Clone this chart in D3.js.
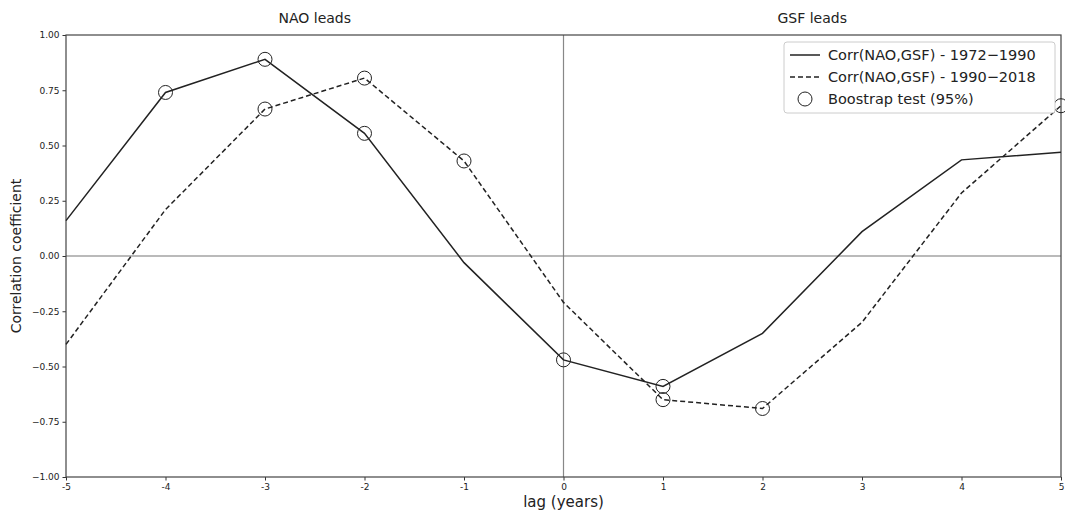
<!DOCTYPE html>
<html>
<head>
<meta charset="utf-8">
<script src="https://d3js.org/d3.v7.min.js"></script>
<style>
  body { margin: 0; background: white; }
  text { font-family: "DejaVu Sans", sans-serif; fill: #222; }
</style>
</head>
<body>
<div id="container"></div>
<script>
// Lagged correlation NAO vs GSF, two periods

const width = 1065;
const height = 512;
const margin = { top: 35, right: 4, bottom: 35, left: 66 };

const lags = [-5, -4, -3, -2, -1, 0, 1, 2, 3, 4, 5];
const corr1972 = [0.16, 0.74, 0.89, 0.555, -0.03, -0.47, -0.59, -0.35, 0.11, 0.435, 0.47];
const corr1990 = [-0.40, 0.21, 0.665, 0.805, 0.43, -0.21, -0.65, -0.69, -0.30, 0.285, 0.68];
// lags where the bootstrap test is significant
const sig1972 = [-4, -3, -2, 0, 1];
const sig1990 = [-3, -2, -1, 1, 2, 5];
const yTicks = [-1.0, -0.75, -0.5, -0.25, 0.0, 0.25, 0.5, 0.75, 1.0];
const legendLabels = ["Corr(NAO,GSF) - 1972\u22121990", "Corr(NAO,GSF) - 1990\u22122018", "Boostrap test (95%)"];

const svg = d3.select("#container")
    .append("svg")
    .attr("width", width)
    .attr("height", height)
    .style("background-color", "white");

const x = d3.scaleLinear()
    .domain([-5, 5])
    .range([margin.left, width - margin.right]);

const y = d3.scaleLinear()
    .domain([-1, 1])
    .range([height - margin.bottom, margin.top]);

const fmtY = d => d < 0 ? "\u2212" + Math.abs(d).toFixed(2) : d.toFixed(2);

// zero lines
svg.append("line")
    .attr("x1", x(0)).attr("x2", x(0))
    .attr("y1", y(1)).attr("y2", y(-1))
    .attr("stroke", "#888").attr("stroke-width", 1.2);
svg.append("line")
    .attr("x1", x(-5)).attr("x2", x(5))
    .attr("y1", y(0)).attr("y2", y(0))
    .attr("stroke", "#777").attr("stroke-width", 1.2);

// axes
const xAxis = svg.append("g")
    .attr("transform", `translate(0,${y(-1)})`)
    .call(d3.axisBottom(x).tickValues(lags).tickFormat(d => String(d)).tickSize(3.5).tickPadding(3));
const yAxis = svg.append("g")
    .attr("transform", `translate(${x(-5)},0)`)
    .call(d3.axisLeft(y).tickValues(yTicks).tickFormat(fmtY).tickSize(3.5).tickPadding(3));

[xAxis, yAxis].forEach(a => {
    a.selectAll("text").style("font-size", "9px").style("fill", "#222");
    a.selectAll("line").attr("stroke", "#333");
    a.select(".domain").remove();
});

// frame
svg.append("rect")
    .attr("x", x(-5)).attr("y", y(1))
    .attr("width", x(5) - x(-5)).attr("height", y(-1) - y(1))
    .attr("fill", "none").attr("stroke", "#444").attr("stroke-width", 1.2);

// lines
const line = d3.line()
    .x((d, i) => x(lags[i]))
    .y(d => y(d));

svg.append("path")
    .datum(corr1972)
    .attr("d", line)
    .attr("fill", "none")
    .attr("stroke", "#222")
    .attr("stroke-width", 1.5);

svg.append("path")
    .datum(corr1990)
    .attr("d", line)
    .attr("fill", "none")
    .attr("stroke", "#222")
    .attr("stroke-width", 1.5)
    .attr("stroke-dasharray", "5,3");

// significance markers
const sigPoints = sig1972.map(l => ({ lag: l, v: corr1972[lags.indexOf(l)] }))
    .concat(sig1990.map(l => ({ lag: l, v: corr1990[lags.indexOf(l)] })));

svg.append("g")
    .selectAll("circle")
    .data(sigPoints)
    .join("circle")
    .attr("cx", d => x(d.lag))
    .attr("cy", d => y(d.v))
    .attr("r", 7)
    .attr("fill", "none")
    .attr("stroke", "#222")
    .attr("stroke-width", 1);

// titles
svg.append("text")
    .attr("x", x(-2.5)).attr("y", 23)
    .attr("text-anchor", "middle")
    .style("font-size", "14px")
    .text("NAO leads");
svg.append("text")
    .attr("x", x(2.5)).attr("y", 23)
    .attr("text-anchor", "middle")
    .style("font-size", "14px")
    .text("GSF leads");

// axis labels
svg.append("text")
    .attr("x", (x(-5) + x(5)) / 2).attr("y", 507)
    .attr("text-anchor", "middle")
    .style("font-size", "15px")
    .text("lag (years)");
svg.append("text")
    .attr("transform", `translate(21,${y(0)}) rotate(-90)`)
    .attr("text-anchor", "middle")
    .style("font-size", "14px")
    .text("Correlation coefficient");

// legend
const legend = svg.append("g")
    .attr("transform", "translate(784,42)");

legend.append("rect")
    .attr("width", 271).attr("height", 71)
    .attr("rx", 3)
    .attr("fill", "white")
    .attr("stroke", "#ccc");

legendLabels.forEach((label, i) => {
    const g = legend.append("g")
        .attr("transform", `translate(0, ${13 + i * 22})`);
    if (i < 2) {
        g.append("line")
            .attr("x1", 6).attr("x2", 36)
            .attr("stroke", "#222").attr("stroke-width", 1.5)
            .attr("stroke-dasharray", i === 1 ? "5,3" : null);
    } else {
        g.append("circle")
            .attr("cx", 21).attr("r", 7)
            .attr("fill", "none").attr("stroke", "#222");
    }
    g.append("text")
        .attr("x", 44).attr("y", 5)
        .style("font-size", "14.5px")
        .text(label);
});
</script>
</body>
</html>
